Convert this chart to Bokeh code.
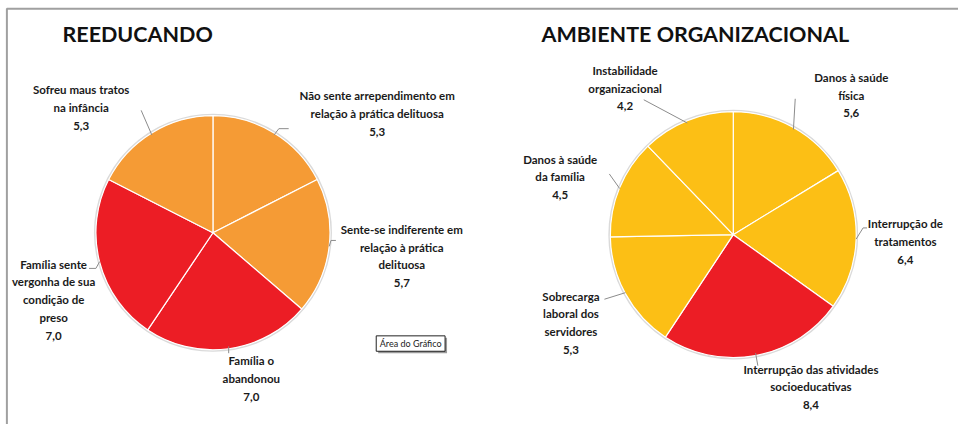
import math
from bokeh.plotting import figure
from bokeh.models import Range1d
from bokeh.core.properties import value
from bokeh.embed import file_html
from bokeh.resources import INLINE

# ---------------- data ----------------
reed_title = "REEDUCANDO"
reed_labels = ["Não sente arrependimento em\nrelação à prática delituosa",
               "Sente-se indiferente em\nrelação à prática\ndelituosa",
               "Família o\nabandonou",
               "Família sente\nvergonha de sua\ncondição de\npreso",
               "Sofreu maus tratos\nna infância"]
reed_values = [5.3, 5.7, 7.0, 7.0, 5.3]
reed_highlight = [False, False, True, True, False]

amb_title = "AMBIENTE ORGANIZACIONAL"
amb_labels = ["Danos à saúde\nfísica",
              "Interrupção de\ntratamentos",
              "Interrupção das atividades\nsocioeducativas",
              "Sobrecarga\nlaboral dos\nservidores",
              "Danos à saúde\nda família",
              "Instabilidade\norganizacional"]
amb_values = [5.6, 6.4, 8.4, 5.3, 4.5, 4.2]
amb_highlight = [False, False, True, False, False, False]

# ---------------- layout / style ----------------
W, H = 958, 424
FW, FH = 974, 440          # reference frame mapped onto the figure
FONT = "Lato"
RED = "#EC1D25"
ORANGE = "#F59B35"
YELLOW = "#FCBF15"
LEADER = "#8C8C8C"


def Y(yi):
    return FH - yi


p = figure(width=W, height=H, output_backend="svg", toolbar_location=None,
           x_range=Range1d(0, FW), y_range=Range1d(0, FH),
           min_border=0, outline_line_color=None)
p.axis.visible = False
p.grid.visible = False
p.background_fill_color = "white"
p.border_fill_color = "white"

# chart area border (top and left)
p.line([6.5, 6.5, 974], [Y(440), Y(8.5), Y(8.5)], line_color="#A0A0A0", line_width=2)


def draw_pie(cx, cy, r, values, highlight, base_color, labels, label_pos, leader_pts):
    total = sum(values)
    p.circle(x=[cx], y=[Y(cy)], radius=r + 1, fill_color=None,
             line_color="#DADADA", line_width=2)
    cum = 0.0
    for i, v in enumerate(values):
        a0 = cum / total
        cum += v
        a1 = cum / total
        start = math.pi / 2 - 2 * math.pi * a0
        end = math.pi / 2 - 2 * math.pi * a1
        color = RED if highlight[i] else base_color
        p.wedge(x=[cx], y=[Y(cy)], radius=r, start_angle=start, end_angle=end,
                direction="clock", fill_color=color, line_color="white", line_width=1.2)
        mid = 2 * math.pi * (a0 + a1) / 2
        ex = cx + r * math.sin(mid)
        ey = cy - r * math.cos(mid)
        pts = [(ex, ey)] + leader_pts[i]
        p.line([q[0] for q in pts], [Y(q[1]) for q in pts], line_color=LEADER, line_width=1)
        lx, ly = label_pos[i]
        txt = labels[i] + "\n" + f"{v:.1f}".replace(".", ",")
        p.text(x=[lx], y=[Y(ly)], text=[txt], text_align="center", text_baseline="top",
               text_font=value(FONT), text_font_style="bold", text_font_size="11.5px",
               text_line_height=1.36, text_color="#1A1A1A")


draw_pie(216, 241, 119, reed_values, reed_highlight, ORANGE, reed_labels,
         [(383, 92), (408, 231), (255, 367), (54, 267), (82, 86)],
         [[(283, 133), (293, 133)], [(336, 249), (341, 249)], [(232, 366)],
          [(97, 278), (90, 278)], [(143, 114)]])

draw_pie(745, 243, 125, amb_values, amb_highlight, YELLOW, amb_labels,
         [(865, 73), (920, 225), (824, 376), (580, 300), (569, 158), (635, 66)],
         [[(808, 102)], [(877, 236), (881, 236)], [(770, 379)],
          [(614, 310)], [(619, 180)], [(654, 103)]])

p.text(x=[63], y=[Y(35)], text=[reed_title], text_align="left", text_baseline="middle",
       text_font=value(FONT), text_font_style="bold", text_font_size="21.5px", text_color="#111111")
p.text(x=[550], y=[Y(35)], text=[amb_title], text_align="left", text_baseline="middle",
       text_font=value(FONT), text_font_style="bold", text_font_size="21.5px", text_color="#111111")

p.quad(left=[384], right=[454], top=[Y(350)], bottom=[Y(366)], fill_color="#9A9A9A", line_color=None)
p.quad(left=[382], right=[452], top=[Y(348)], bottom=[Y(364)], fill_color="white",
       line_color="#222222", line_width=1)
p.text(x=[417], y=[Y(356)], text=["Área do Gráfico"], text_align="center", text_baseline="middle",
       text_font=value(FONT), text_font_size="9px", text_color="#222222")

open("out.html", "w").write(file_html(p, INLINE))
